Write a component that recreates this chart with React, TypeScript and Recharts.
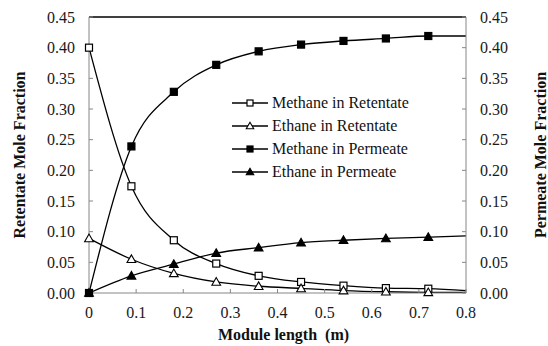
import { LineChart, Line, XAxis, YAxis, ReferenceLine, Legend } from "recharts";

const moduleLength = [0, 0.09, 0.18, 0.27, 0.36, 0.45, 0.54, 0.63, 0.72, 0.8];
const methaneRetentate = [0.4, 0.174, 0.086, 0.048, 0.028, 0.018, 0.012, 0.008, 0.007, 0.004];
const ethaneRetentate = [0.089, 0.055, 0.032, 0.018, 0.011, 0.0075, 0.004, 0.002, 0.001, 0.001];
const methanePermeate = [0, 0.239, 0.328, 0.372, 0.394, 0.405, 0.411, 0.415, 0.419, 0.419];
const ethanePermeate = [0, 0.028, 0.047, 0.065, 0.074, 0.082, 0.086, 0.089, 0.091, 0.093];

const xTicks = [0, 0.1, 0.2, 0.3, 0.4, 0.5, 0.6, 0.7, 0.8];
const yTicks = [0, 0.05, 0.1, 0.15, 0.2, 0.25, 0.3, 0.35, 0.4, 0.45];

// retentate curves read on the left axis, permeate on the right
const series = [
  { key: "mr", name: "Methane in Retentate", marker: "openSquare", axis: "left" },
  { key: "er", name: "Ethane in Retentate", marker: "openTriangle", axis: "left" },
  { key: "mp", name: "Methane in Permeate", marker: "filledSquare", axis: "right" },
  { key: "ep", name: "Ethane in Permeate", marker: "filledTriangle", axis: "right" },
];

const data = moduleLength.map((x, i) => ({
  x,
  mr: methaneRetentate[i],
  er: ethaneRetentate[i],
  mp: methanePermeate[i],
  ep: ethanePermeate[i],
}));

// the last point only carries the curve to 0.8, no marker there
const lastIndex = moduleLength.length - 1;

const font = "Liberation Serif, serif";
const axisGrey = "#868686";

function Marker({ kind, cx, cy, r = 3.5 }: { kind: string; cx: number; cy: number; r?: number }) {
  const filled = kind.startsWith("filled");
  const fill = filled ? "#000" : "#fff";
  if (kind.endsWith("Square")) {
    return (
      <rect x={cx - r} y={cy - r} width={r * 2} height={r * 2} fill={fill} stroke="#000" strokeWidth={1.2} />
    );
  }
  const t = r * 1.25;
  return (
    <polygon
      points={`${cx},${cy - t} ${cx - t},${cy + t * 0.75} ${cx + t},${cy + t * 0.75}`}
      fill={fill}
      stroke="#000"
      strokeWidth={1.1}
    />
  );
}

const renderLegend = () => (
  <div style={{ fontFamily: font, fontSize: 16, color: "#111" }}>
    {series.map((s) => (
      <div key={s.key} style={{ display: "flex", alignItems: "center", height: 23 }}>
        <svg width={36} height={12}>
          <line x1={0} y1={6} x2={36} y2={6} stroke="#000" strokeWidth={1.3} />
          <Marker kind={s.marker} cx={18} cy={6} r={3} />
        </svg>
        <span style={{ marginLeft: 4 }}>{s.name}</span>
      </div>
    ))}
  </div>
);

const tickStyle = { fontSize: 16, fill: "#1a1a1a", fontFamily: font };
const titleStyle = { textAnchor: "middle", fontWeight: "bold", fontSize: 16, fill: "#111", fontFamily: font };

export default function App() {
  return (
    <div style={{ position: "absolute", left: 0, top: 0, background: "#fff", fontFamily: font }}>
      <LineChart
        width={548}
        height={346}
        data={data}
        margin={{ top: 17, right: 0, bottom: 0, left: 0 }}
        style={{ fontFamily: font }}
      >
        <XAxis
          dataKey="x"
          type="number"
          domain={[0, 0.8]}
          ticks={xTicks}
          tickFormatter={(v: number) => (v === 0 ? "0" : v.toFixed(1))}
          height={53}
          tickSize={-4}
          tickMargin={18}
          axisLine={{ stroke: axisGrey }}
          tickLine={{ stroke: axisGrey }}
          tick={tickStyle}
          label={{ value: "Module length\u00A0 (m)", position: "insideBottom", offset: 6, dx: 6, style: titleStyle }}
        />
        <YAxis
          yAxisId="left"
          domain={[0, 0.45]}
          ticks={yTicks}
          tickFormatter={(v: number) => v.toFixed(2)}
          width={89}
          tickSize={-4}
          tickMargin={18}
          axisLine={{ stroke: axisGrey }}
          tickLine={{ stroke: axisGrey }}
          tick={tickStyle}
          label={{ value: "Retentate Mole Fraction", angle: -90, position: "insideLeft", offset: 19, style: titleStyle }}
        />
        <YAxis
          yAxisId="right"
          orientation="right"
          domain={[0, 0.45]}
          ticks={yTicks}
          tickFormatter={(v: number) => v.toFixed(2)}
          width={82}
          tickSize={-4}
          tickMargin={18}
          axisLine={{ stroke: axisGrey }}
          tickLine={{ stroke: axisGrey }}
          tick={tickStyle}
          label={{ value: "Permeate Mole Fraction", angle: -90, position: "insideRight", offset: 8, style: titleStyle }}
        />
        <ReferenceLine yAxisId="left" y={0.45} stroke="#000" strokeWidth={1.5} />
        {series.map((s) => (
          <Line
            key={s.key}
            yAxisId={s.axis}
            dataKey={s.key}
            name={s.name}
            type="monotone"
            stroke="#000"
            strokeWidth={1.3}
            isAnimationActive={false}
            dot={(p: any) =>
              p.index === lastIndex ? (
                <g key={`${s.key}-${p.index}`} />
              ) : (
                <Marker key={`${s.key}-${p.index}`} kind={s.marker} cx={p.cx} cy={p.cy} />
              )
            }
          />
        ))}
        <Legend
          layout="vertical"
          align="center"
          verticalAlign="middle"
          content={renderLegend}
          wrapperStyle={{ left: 232, top: 91, width: 240 }}
        />
      </LineChart>
    </div>
  );
}
